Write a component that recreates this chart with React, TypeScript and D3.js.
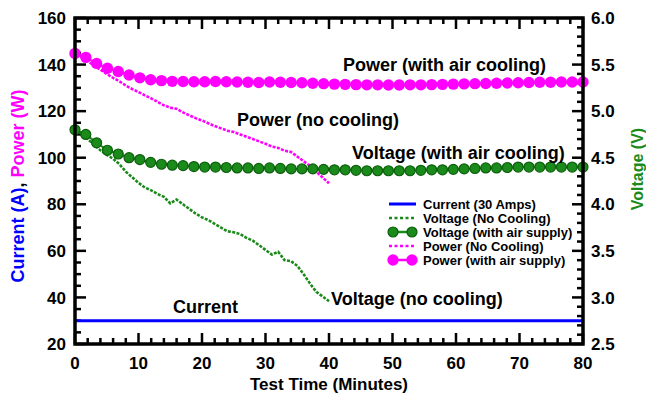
import React from "react";
import * as d3 from "d3";

// Test time samples (minutes)
const noCoolTime = d3.range(0, 41);
const airTime = d3.range(48).map((i) => (i * 80) / 47);

// Power (W) without cooling
const powerNoCool = [
  145, 143.5, 141.5, 139.5, 137.8, 136, 134.3, 132.8, 131, 129.5, 128.2, 126.8, 125.5, 124, 122.5, 121.5,
  121, 119.5, 118.2, 117, 116, 114.8, 113.6, 112.6, 111.6, 111, 110, 109, 108, 107, 106, 104.8, 104.2,
  103, 102.5, 100.5, 98.5, 96.5, 94, 91.5, 89,
];

// Voltage (V) without cooling
const voltNoCool = [
  4.8, 4.76, 4.7, 4.64, 4.58, 4.53, 4.49, 4.43, 4.35, 4.29, 4.23, 4.18, 4.15, 4.11, 4.08, 4.01, 4.05, 4.0,
  3.95, 3.9, 3.86, 3.83, 3.79, 3.75, 3.71, 3.7, 3.68, 3.64, 3.61, 3.56, 3.51, 3.46, 3.49, 3.4, 3.39, 3.34,
  3.25, 3.15, 3.06, 3.01, 2.96,
];

// Power (W) with air supply
const powerAir = [
  144.8, 143.1, 140.5, 138.4, 137.0, 135.5, 134.3, 133.5, 133.1, 132.8, 132.7, 132.6, 132.6, 132.7, 132.6,
  132.5, 132.4, 132.3, 132.5, 132.4, 132.3, 132.2, 132.0, 131.8, 131.6, 131.5, 131.4, 131.3, 131.3, 131.2,
  131.2, 131.3, 131.3, 131.4, 131.5, 131.6, 131.7, 131.8, 131.9, 132.0, 132.1, 132.2, 132.3, 132.4, 132.4,
  132.5, 132.5, 132.5,
];

// Voltage (V) with air supply
const voltAir = [
  4.8, 4.75, 4.66, 4.58, 4.54, 4.5, 4.48, 4.45, 4.43, 4.42, 4.415, 4.405, 4.4, 4.4, 4.395, 4.39, 4.39, 4.385,
  4.39, 4.385, 4.38, 4.38, 4.38, 4.375, 4.37, 4.37, 4.365, 4.36, 4.36, 4.36, 4.36, 4.36, 4.365, 4.37, 4.37,
  4.375, 4.38, 4.385, 4.39, 4.39, 4.395, 4.4, 4.4, 4.4, 4.4, 4.4, 4.4, 4.4,
];

const currentTime = [0, 80];
const currentVals = [30, 30];

const xTicks = [0, 10, 20, 30, 40, 50, 60, 70, 80];
const leftTicks = [20, 40, 60, 80, 100, 120, 140, 160];
const rightTicks = [2.5, 3.0, 3.5, 4.0, 4.5, 5.0, 5.5, 6.0];

const legendItems = [
  "Current (30 Amps)",
  "Voltage (No Cooling)",
  "Voltage (with air supply)",
  "Power (No Cooling)",
  "Power (with air supply)",
];

const MAGENTA = "#ff00ff";
const GREEN = "#1a8a1a";
const GREEN_DARK = "#0c5f0c";
const BLUE = "#0000ff";
const FONT = "'Liberation Sans', Arial, Helvetica, sans-serif";

const App = () => {
  const width = 646;
  const height = 393;
  const m = { left: 75, right: 583, top: 18, bottom: 344 };

  const x = d3.scaleLinear().domain([0, 80]).range([m.left, m.right]);
  const yL = d3.scaleLinear().domain([20, 160]).range([m.bottom, m.top]);
  const yR = d3.scaleLinear().domain([2.5, 6.0]).range([m.bottom, m.top]);

  const lineL = (ts: number[], vs: number[]) =>
    d3.line<number>().x((_, i) => x(ts[i])).y((d) => yL(d))(vs) || "";
  const lineR = (ts: number[], vs: number[]) =>
    d3.line<number>().x((_, i) => x(ts[i])).y((d) => yR(d))(vs) || "";

  const xMinor = d3.range(0, 81, 2);
  const lMinor = d3.range(20, 161, 5);
  const rMinor = d3.range(25, 61, 1).map((v) => v / 10);

  const tickStroke = 2.5;

  return (
    <svg width={width} height={height} style={{ position: "absolute", left: 0, top: 0, background: "#fff" }}>
      {/* ticks */}
      <g stroke="#000" strokeWidth={tickStroke}>
        {xMinor.map((t) => {
          const len = t % 10 === 0 ? 11 : 6;
          return (
            <g key={"x" + t}>
              <line x1={x(t)} x2={x(t)} y1={m.bottom} y2={m.bottom - len} />
              <line x1={x(t)} x2={x(t)} y1={m.top} y2={m.top + len} />
            </g>
          );
        })}
        {lMinor.map((v) => {
          const len = v % 20 === 0 ? 11 : 6;
          return <line key={"l" + v} x1={m.left} x2={m.left + len} y1={yL(v)} y2={yL(v)} />;
        })}
        {rMinor.map((v) => {
          const major = Math.abs(Math.round(v * 10) % 5) === 0;
          const len = major ? 11 : 6;
          return <line key={"r" + v} x1={m.right} x2={m.right - len} y1={yR(v)} y2={yR(v)} />;
        })}
      </g>

      {/* current */}
      <path d={lineL(currentTime, currentVals)} fill="none" stroke={BLUE} strokeWidth={3} />

      {/* voltage no cooling */}
      <path
        d={lineR(noCoolTime, voltNoCool)}
        fill="none"
        stroke={GREEN}
        strokeWidth={2.6}
        strokeDasharray="3 1.4"
      />
      {/* power no cooling */}
      <path
        d={lineL(noCoolTime, powerNoCool)}
        fill="none"
        stroke={MAGENTA}
        strokeWidth={2.6}
        strokeDasharray="3 1.4"
      />

      {/* power with air */}
      <path d={lineL(airTime, powerAir)} fill="none" stroke={MAGENTA} strokeWidth={2} />
      {powerAir.map((v, i) => (
        <circle key={"pa" + i} cx={x(airTime[i])} cy={yL(v)} r={5.7} fill={MAGENTA} />
      ))}

      {/* voltage with air */}
      <path d={lineR(airTime, voltAir)} fill="none" stroke={GREEN} strokeWidth={2} />
      {voltAir.map((v, i) => (
        <circle
          key={"va" + i}
          cx={x(airTime[i])}
          cy={yR(v)}
          r={5}
          fill={GREEN}
          stroke={GREEN_DARK}
          strokeWidth={1.2}
        />
      ))}

      {/* frame */}
      <rect
        x={m.left}
        y={m.top}
        width={m.right - m.left}
        height={m.bottom - m.top}
        fill="none"
        stroke="#000"
        strokeWidth={3.5}
      />

      {/* tick labels */}
      <g fontFamily={FONT} fontWeight="bold" fontSize={17} fill="#000">
        {xTicks.map((t) => (
          <text key={"xt" + t} x={x(t)} y={369} textAnchor="middle">
            {t}
          </text>
        ))}
        {leftTicks.map((v) => (
          <text key={"lt" + v} x={66} y={yL(v)} dy="0.36em" textAnchor="end">
            {v}
          </text>
        ))}
        {rightTicks.map((v) => (
          <text key={"rt" + v} x={591} y={yR(v)} dy="0.36em" textAnchor="start">
            {v.toFixed(1)}
          </text>
        ))}
      </g>

      {/* axis titles */}
      <text x={329} y={390} textAnchor="middle" fontFamily={FONT} fontWeight="bold" fontSize={17}>
        Test Time (Minutes)
      </text>
      <text
        transform="translate(24,186) rotate(-90)"
        textAnchor="middle"
        fontFamily={FONT}
        fontWeight="bold"
        fontSize={18}
      >
        <tspan fill={BLUE}>Current (A)</tspan>
        <tspan fill="#000">, </tspan>
        <tspan fill={MAGENTA}>Power (W)</tspan>
      </text>
      <text
        transform="translate(643,169) rotate(-90)"
        textAnchor="middle"
        fontFamily={FONT}
        fontWeight="bold"
        fontSize={16}
        fill={GREEN}
      >
        Voltage (V)
      </text>

      {/* annotations */}
      <g fontFamily={FONT} fontWeight="bold" fontSize={18} fill="#000">
        <text x={343} y={71}>Power (with air cooling)</text>
        <text x={237} y={126}>Power (no cooling)</text>
        <text x={352} y={159}>Voltage (with air cooling)</text>
        <text x={173} y={313}>Current</text>
        <text x={331} y={305}>Voltage (no cooling)</text>
      </g>

      {/* legend */}
      <g fontFamily={FONT} fontWeight="bold" fontSize={13}>
        {legendItems.map((label, i) => {
          const cy = 204 + i * 14;
          const x1 = 389;
          const x2 = 416;
          let sym: React.ReactNode = null;
          if (i === 0) {
            sym = <line x1={x1} x2={x2} y1={cy} y2={cy} stroke={BLUE} strokeWidth={3} />;
          } else if (i === 1 || i === 3) {
            sym = (
              <line
                x1={x1}
                x2={x2}
                y1={cy}
                y2={cy}
                stroke={i === 1 ? GREEN : MAGENTA}
                strokeWidth={2.6}
                strokeDasharray="3 2.5"
              />
            );
          } else if (i === 2) {
            sym = (
              <g>
                <line x1={x1 + 4} x2={x2 - 4} y1={cy} y2={cy} stroke={GREEN} strokeWidth={2.5} />
                <circle cx={x1 + 4} cy={cy} r={5} fill={GREEN} stroke={GREEN_DARK} strokeWidth={1.2} />
                <circle cx={x2 - 4} cy={cy} r={5} fill={GREEN} stroke={GREEN_DARK} strokeWidth={1.2} />
              </g>
            );
          } else {
            sym = (
              <g>
                <line x1={x1 + 4} x2={x2 - 4} y1={cy} y2={cy} stroke={MAGENTA} strokeWidth={2.5} />
                <circle cx={x1 + 4} cy={cy} r={5.7} fill={MAGENTA} />
                <circle cx={x2 - 4} cy={cy} r={5.7} fill={MAGENTA} />
              </g>
            );
          }
          return (
            <g key={label}>
              {sym}
              <text x={423} y={cy} dy="0.36em" fill="#000">
                {label}
              </text>
            </g>
          );
        })}
      </g>
    </svg>
  );
};

export default App;
